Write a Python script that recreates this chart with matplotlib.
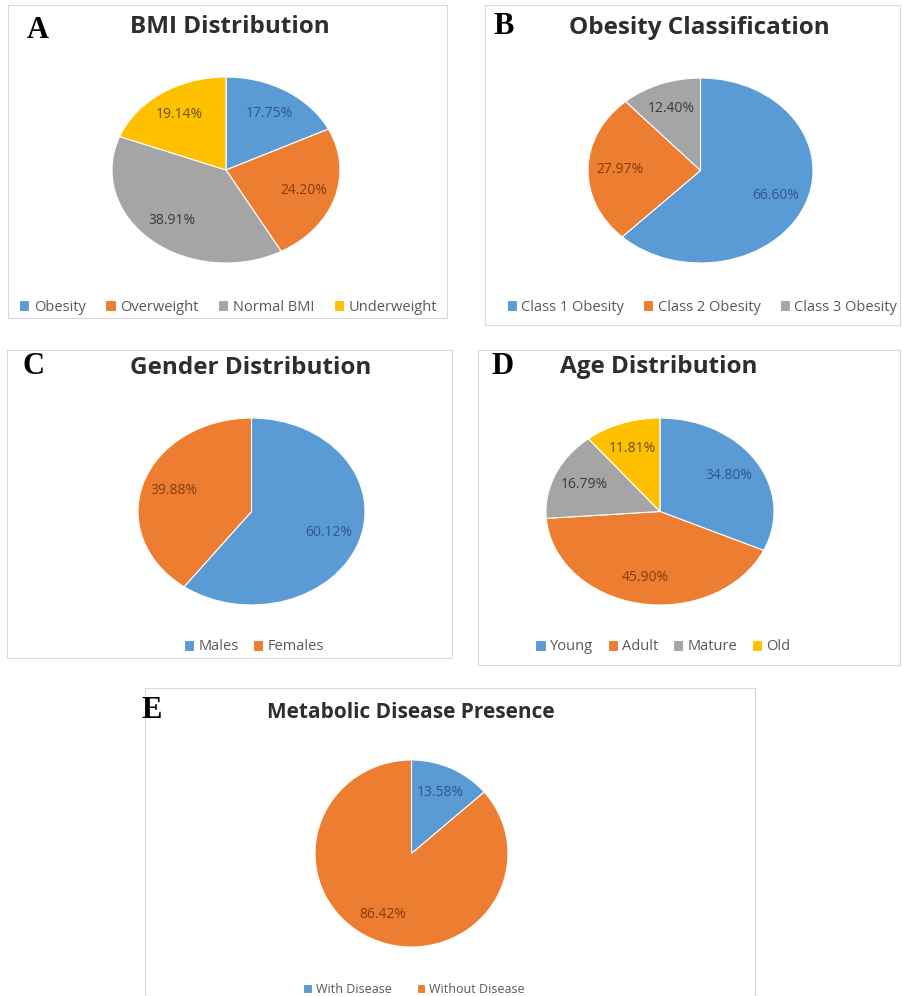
import matplotlib.pyplot as plt
from matplotlib.patches import Rectangle

# Panel data
bmi_labels = ['Obesity', 'Overweight', 'Normal BMI', 'Underweight']
bmi_values = [17.75, 24.20, 38.91, 19.14]

obesity_labels = ['Class 1 Obesity', 'Class 2 Obesity', 'Class 3 Obesity']
obesity_values = [66.60, 27.97, 12.40]

gender_labels = ['Males', 'Females']
gender_values = [60.12, 39.88]

age_labels = ['Young', 'Adult', 'Mature', 'Old']
age_values = [34.80, 45.90, 16.79, 11.81]

disease_labels = ['With Disease', 'Without Disease']
disease_values = [13.58, 86.42]

W, H = 902, 996
COLORS = ['#5B9BD5', '#ED7D31', '#A5A5A5', '#FFC000']
TEXT_COLORS = ['#2F5597', '#843C0C', '#3A3A3A', '#6B5200']
SANS = 'Open Sans'

fig = plt.figure(figsize=(W / 100, H / 100), dpi=100)
fig.patch.set_facecolor('white')


def fx(x):
    return x / W


def fy(y):
    return 1 - y / H


def frame(x0, y0, x1, y1):
    fig.patches.append(Rectangle((fx(x0), fy(y1)), fx(x1) - fx(x0), fy(y0) - fy(y1),
                                 transform=fig.transFigure, fill=False,
                                 edgecolor='#DADADA', linewidth=0.8))


def panel(letter, title, labels, values, box, letter_xy, title_xy, legend_xy,
          colspace=2.0, title_size=17.5, legend_size=10.5):
    x0, y0, x1, y1 = box
    ax = fig.add_axes([fx(x0), fy(y1), fx(x1) - fx(x0), fy(y0) - fy(y1)])
    wedges, _, autotexts = ax.pie(values, colors=COLORS[:len(values)], startangle=90,
                                  counterclock=False, autopct='%1.2f%%', pctdistance=0.72,
                                  wedgeprops=dict(edgecolor='white', linewidth=0.8))
    for t, v, c in zip(autotexts, values, TEXT_COLORS):
        t.set_text(f'{v:.2f}%')
        t.set_color(c)
        t.set_fontsize(10)
        t.set_family(SANS)
    ax.set_aspect('auto')
    ax.set_xlim(-1, 1)
    ax.set_ylim(-1, 1)

    fig.text(fx(letter_xy[0]), fy(letter_xy[1]), letter, family='Liberation Serif',
             fontweight='bold', fontsize=22, ha='center', va='center', color='black')
    fig.text(fx(title_xy[0]), fy(title_xy[1]), title, family=SANS, fontweight='bold',
             fontsize=title_size, ha='center', va='center', color='#2E2E2E')
    fig.legend(wedges, labels, loc='center', bbox_to_anchor=(fx(legend_xy[0]), fy(legend_xy[1])),
               ncol=len(labels), frameon=False, handlelength=0.7, handleheight=0.7,
               handletextpad=0.3, columnspacing=colspace, labelcolor='#595959',
               prop=dict(family=SANS, size=legend_size))


frame(8, 5, 447, 318)
frame(485, 5, 900, 325)
frame(7, 350, 452, 658)
frame(478, 350, 900, 665)
frame(145, 688, 755, 996)

panel('A', 'BMI Distribution', bmi_labels, bmi_values,
      (112, 77, 340, 263), (38, 31), (230, 27), (228, 307), colspace=1.35)
panel('B', 'Obesity Classification', obesity_labels, obesity_values,
      (588, 78, 813, 263), (504, 26), (699, 28), (702, 307), colspace=1.3)
panel('C', 'Gender Distribution', gender_labels, gender_values,
      (138, 418, 365, 605), (34, 366), (251, 368), (254, 647), colspace=1.0)
panel('D', 'Age Distribution', age_labels, age_values,
      (546, 418, 774, 605), (503, 367), (659, 367), (663, 647), colspace=1.0)
panel('E', 'Metabolic Disease Presence', disease_labels, disease_values,
      (315, 760, 508, 947), (152, 711), (411, 712), (414, 989), colspace=2.0,
      title_size=15, legend_size=9)

fig.savefig('out.png', dpi=100, facecolor='white')
